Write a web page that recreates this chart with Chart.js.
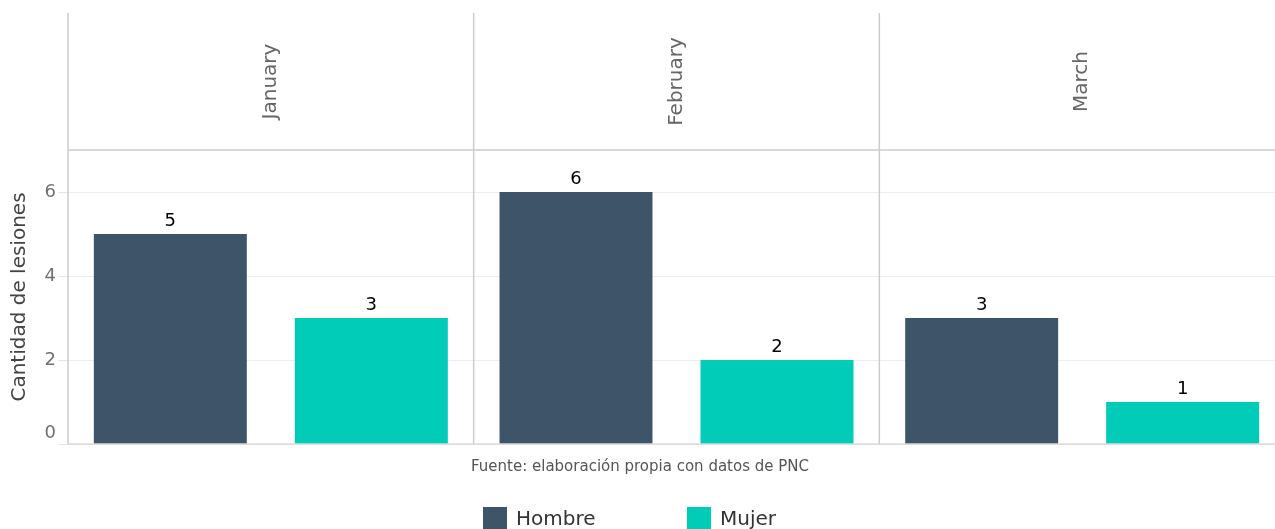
<!DOCTYPE html>
<html>
<head>
<meta charset="utf-8">
<script src="https://cdn.jsdelivr.net/npm/chart.js@4/dist/chart.umd.min.js"></script>
<style>
  html, body { margin: 0; padding: 0; background: #fff; overflow: hidden; }
  #wrap { width: 1285px; height: 529px; }
</style>
</head>
<body>
<div id="wrap"><canvas id="chart" width="1285" height="529"></canvas></div>
<script>
'use strict';

/* DATA */
const months = ['January', 'February', 'March'];
const hombre = [5, 6, 3];
const mujer = [3, 2, 1];
const seriesNames = ['Hombre', 'Mujer'];
const seriesColors = ['#3E5569', '#00CCB7'];
const yTicks = [0, 2, 4, 6];
const yTitle = 'Cantidad de lesiones';
const caption = 'Fuente: elaboración propia con datos de PNC';

const FONT = "'DejaVu Sans', 'Liberation Sans', sans-serif";
const LINE = '#CCCCCC';

/* strips, panel borders, y labels, caption, legend */
const facetPlugin = {
  id: 'facet',
  afterDraw(chart) {
    const { ctx, chartArea: a, scales: { x, y } } = chart;
    const stripTop = 13;
    ctx.save();

    // panel separators
    ctx.strokeStyle = LINE;
    ctx.lineWidth = 1.5;
    const edges = [a.left];
    for (let i = 0; i < months.length - 1; i++) {
      edges.push((x.getPixelForValue(i) + x.getPixelForValue(i + 1)) / 2);
    }
    edges.push(a.right);
    edges.forEach(ex => {
      ctx.beginPath(); ctx.moveTo(ex, stripTop); ctx.lineTo(ex, a.bottom); ctx.stroke();
    });
    ctx.beginPath(); ctx.moveTo(a.left, a.top); ctx.lineTo(a.right, a.top); ctx.stroke();
    const y0 = y.getPixelForValue(0);
    ctx.lineWidth = 1.2;
    ctx.beginPath(); ctx.moveTo(a.left, y0); ctx.lineTo(a.right, y0); ctx.stroke();

    // strip text
    ctx.fillStyle = '#666666';
    ctx.font = '20px ' + FONT;
    ctx.textAlign = 'center';
    ctx.textBaseline = 'middle';
    months.forEach((m, i) => {
      ctx.save();
      ctx.translate(x.getPixelForValue(i), (stripTop + a.top) / 2);
      ctx.rotate(-Math.PI / 2);
      ctx.fillText(m, 0, 0);
      ctx.restore();
    });

    // y tick labels
    ctx.fillStyle = '#707070';
    ctx.font = '18px ' + FONT;
    ctx.textAlign = 'right';
    yTicks.forEach(v => {
      const py = Math.min(y.getPixelForValue(v), a.bottom - 11);
      ctx.fillText(String(v), 56, py);
    });

    // caption
    ctx.fillStyle = '#555555';
    ctx.font = '15px ' + FONT;
    ctx.textAlign = 'center';
    ctx.fillText(caption, 640, 467);

    // legend
    ctx.font = '20px ' + FONT;
    ctx.textAlign = 'left';
    let lx = 483;
    chart.data.datasets.forEach(ds => {
      ctx.fillStyle = ds.backgroundColor;
      ctx.fillRect(lx, 507, 24, 24);
      ctx.fillStyle = '#333333';
      ctx.fillText(ds.label, lx + 33, 520);
      lx += 204;
    });
    ctx.restore();
  },
  afterDatasetsDraw(chart) {
    const { ctx } = chart;
    ctx.save();
    ctx.fillStyle = '#000000';
    ctx.font = '18px ' + FONT;
    ctx.textAlign = 'center';
    ctx.textBaseline = 'alphabetic';
    chart.data.datasets.forEach((ds, di) => {
      chart.getDatasetMeta(di).data.forEach((bar, i) => {
        ctx.fillText(String(ds.data[i]), bar.x, bar.y - 8);
      });
    });
    ctx.restore();
  }
};

new Chart(document.getElementById('chart'), {
  type: 'bar',
  data: {
    labels: months,
    datasets: [
      { label: seriesNames[0], data: hombre, backgroundColor: seriesColors[0] },
      { label: seriesNames[1], data: mujer, backgroundColor: seriesColors[1] }
    ]
  },
  options: {
    responsive: false,
    animation: false,
    categoryPercentage: 0.991,
    barPercentage: 0.761,
    layout: { padding: { top: 150, bottom: 85, left: 0, right: 0 } },
    plugins: { legend: { display: false }, tooltip: { enabled: false } },
    scales: {
      x: { display: false },
      y: {
        min: 0,
        max: 7,
        ticks: { stepSize: 2, includeBounds: false, display: false },
        grid: { color: '#EEEEEE', lineWidth: 1, tickLength: 10, tickColor: '#E6E6E6' },
        border: { display: false },
        title: {
          display: true,
          text: yTitle,
          color: '#444444',
          font: { family: FONT, size: 20 },
          padding: { top: 8, bottom: 0 }
        },
        afterFit(scale) { scale.width = 68; }
      }
    }
  },
  plugins: [facetPlugin]
});
</script>
</body>
</html>
